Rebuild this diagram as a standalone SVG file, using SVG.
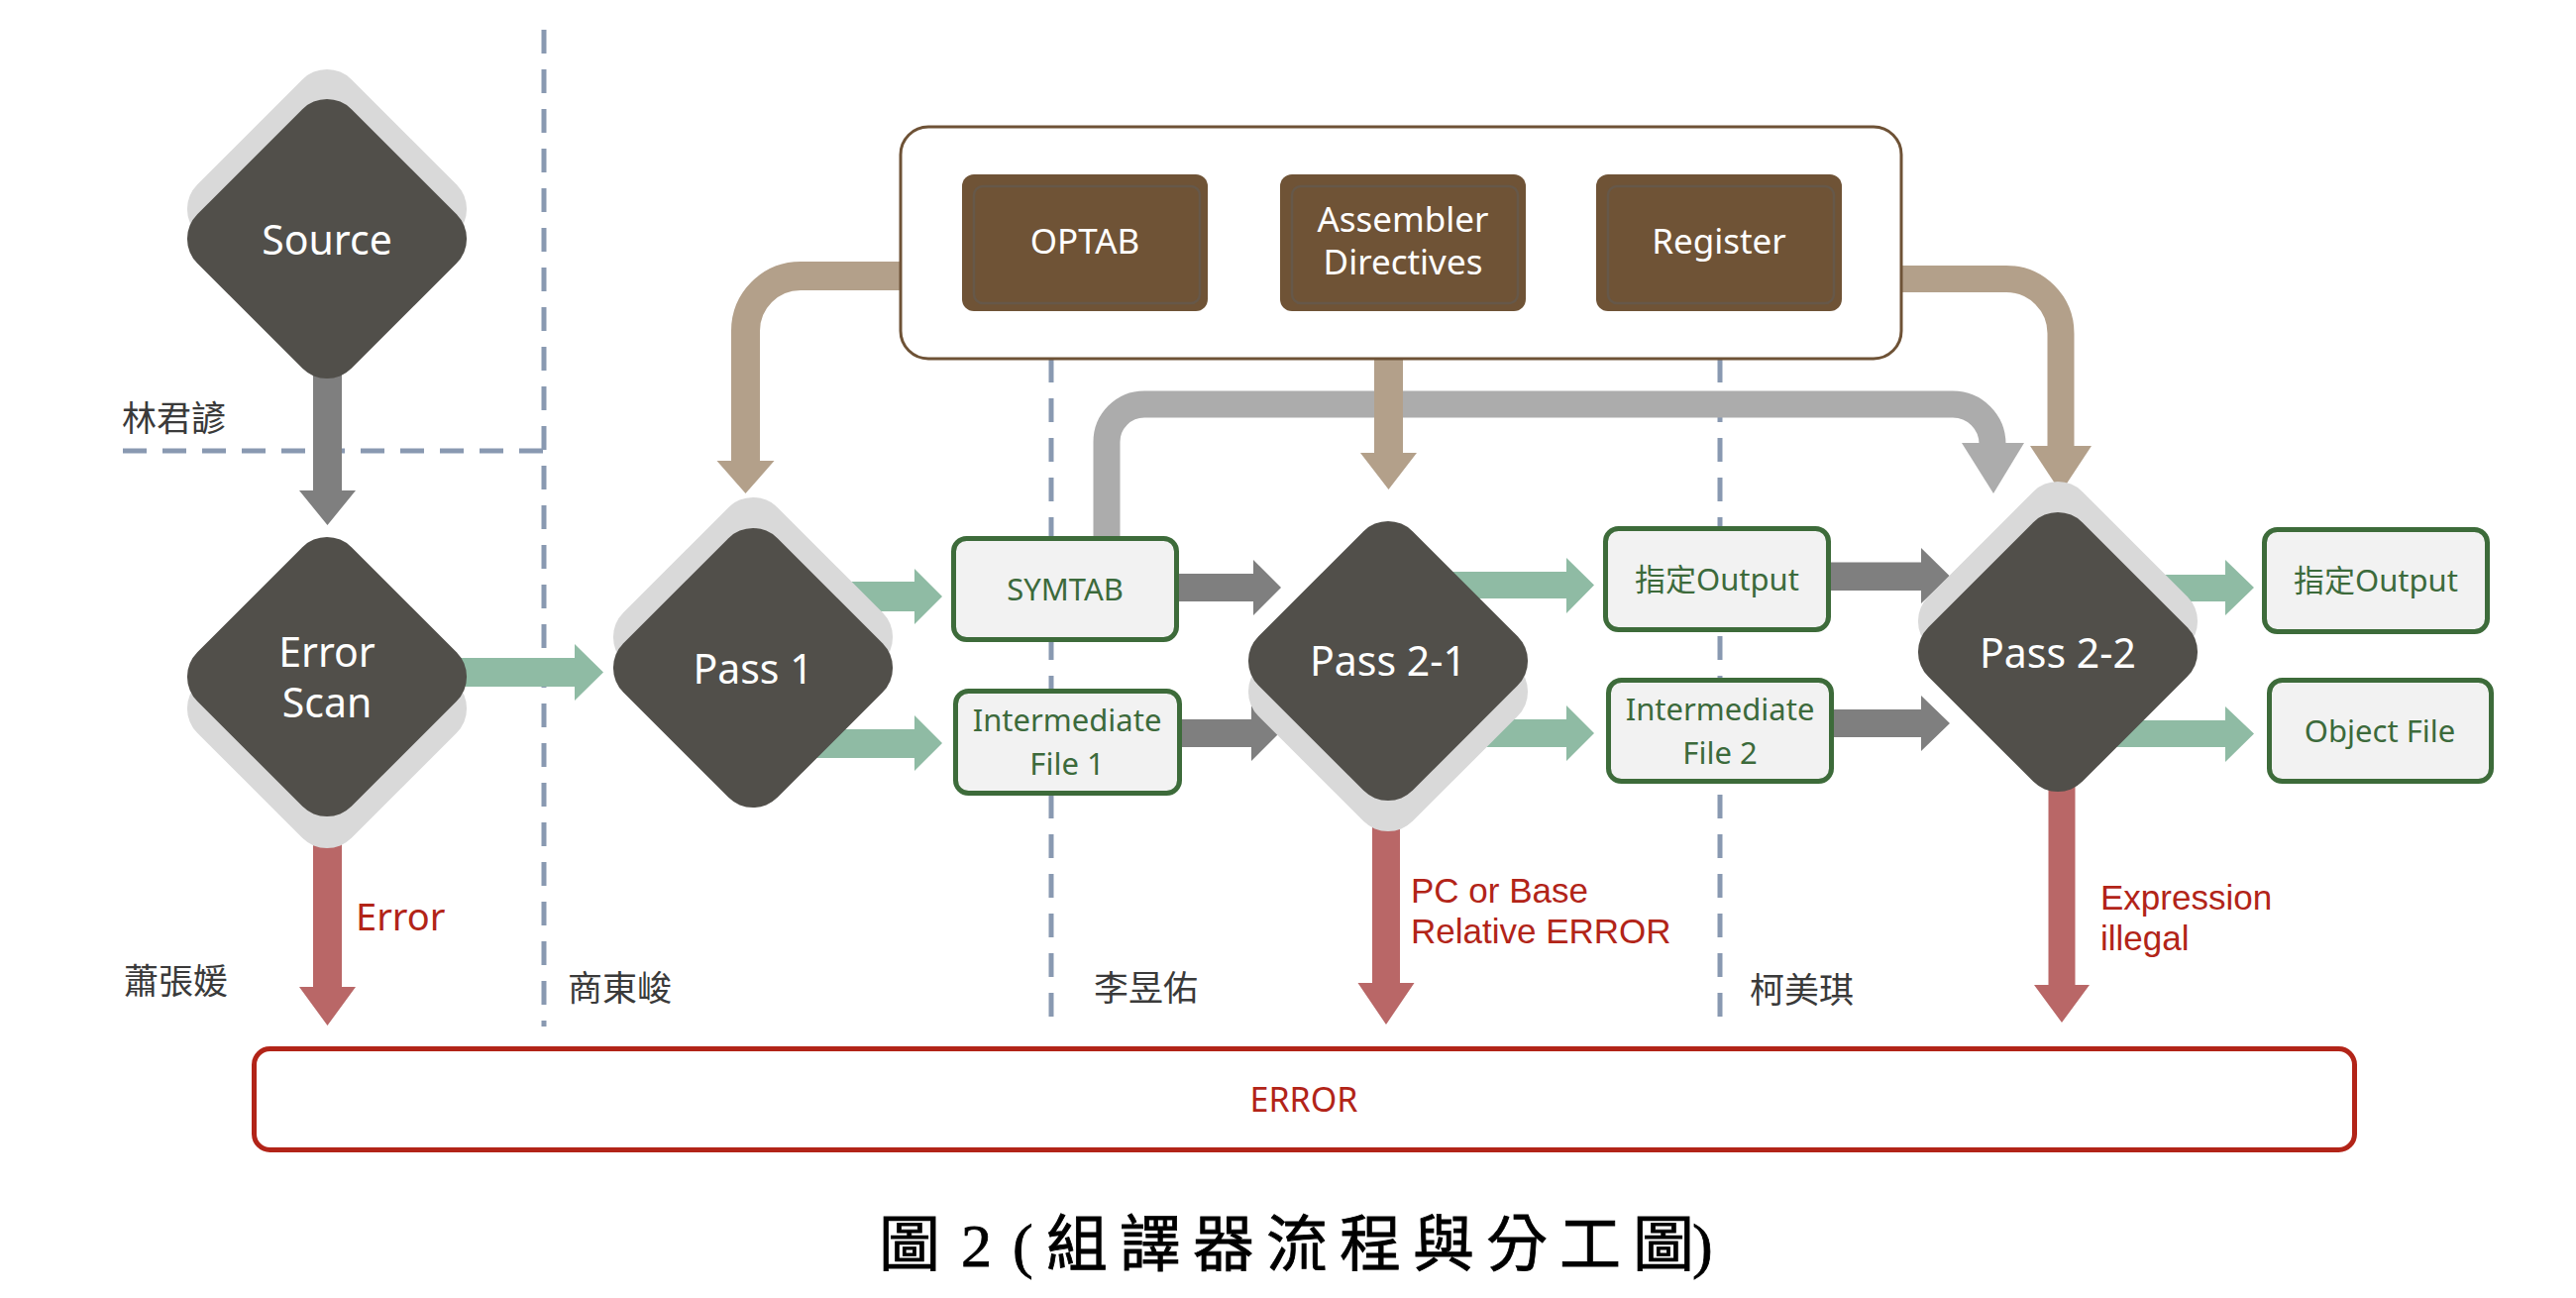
<svg xmlns="http://www.w3.org/2000/svg" xmlns:xlink="http://www.w3.org/1999/xlink" width="2600" height="1310" viewBox="0 0 2600 1310">
<style>
.lane{fill:none;stroke:#8999b1;stroke-width:5;stroke-dasharray:24 16}
.green{fill:#8fbba4}
.dgray{fill:#7f7f7f}
.red{fill:#b96767}
.tan{fill:#b3a08a}
.tanS{fill:none;stroke:#b3a08a}
.lgray{fill:#acacac}
.lgrayS{fill:none;stroke:#acacac}
.dia{fill:#514f4a}
.sh{fill:#d9d9d9}
.dt{font-family:"Noto Sans","Open Sans",sans-serif;font-size:41px;fill:#ffffff;text-anchor:middle}
.gbox{fill:#f2f2f2;stroke:#3d6b3a;stroke-width:5}
.gt{font-family:"Noto Sans","Noto Sans CJK TC",sans-serif;font-size:31px;fill:#3c6a3b;text-anchor:middle}
.bbox{fill:#6f5336}
.bin{fill:none;stroke:#665849;stroke-width:2.5}
.bt{font-family:"Noto Sans","Open Sans",sans-serif;font-size:35px;fill:#ffffff;text-anchor:middle}
.name{font-family:"Noto Sans CJK TC",sans-serif;font-size:35px;fill:#3a3a3a}
.rl{font-family:"Liberation Sans",Arial,sans-serif;font-size:35px;fill:#b22418}
.rn{font-family:"Noto Sans","Open Sans",sans-serif;fill:#b22418}
.cap{font-family:"Liberation Serif","Noto Sans CJK TC",serif;font-size:62px;fill:#000000;stroke:#000000;stroke-width:0.8}
</style>
<defs>
<rect id="dshape" x="-110" y="-110" width="220" height="220" rx="35" ry="35" transform="rotate(45)"/>
</defs>
<rect width="2600" height="1310" fill="#ffffff"/>

<g id="lanes">
<path class="lane" d="M549 30 V1036"/>
<path class="lane" d="M124 455 H549"/>
<path class="lane" d="M1061 362 V1030"/>
<path class="lane" d="M1736 362 V1030"/>
</g>

<g id="connectors">
<polygon class="dgray" points="316,360 345,360 345,495 359,495 330.5,530 302,495 316,495"/>
<polygon class="green" points="440,664 580,664 580,650 609,678.5 580,707 580,693 440,693"/>
<polygon class="red" points="316,800 345,800 345,996 359,996 330.5,1035 302,996 316,996"/>
<polygon class="green" points="800,587 923,587 923,574 951,602 923,630 923,617 800,617"/>
<polygon class="green" points="780,736 923,736 923,722 951,750 923,778 923,765 780,765"/>
<polygon class="dgray" points="1190,579 1265,579 1265,565 1293,593 1265,621 1265,607 1190,607"/>
<polygon class="dgray" points="1193,726 1263,726 1263,712 1291,740 1263,768 1263,754 1193,754"/>
<polygon class="green" points="1440,577 1581,577 1581,563 1609,590.5 1581,619 1581,604 1440,604"/>
<polygon class="green" points="1440,726 1581,726 1581,712 1609,740 1581,768 1581,754 1440,754"/>
<polygon class="red" points="1385,790 1413,790 1413,992 1427.5,992 1399,1034 1370.5,992 1385,992"/>
<polygon class="dgray" points="1848,567.5 1939,567.5 1939,553 1968,581.5 1939,609 1939,596 1848,596"/>
<polygon class="dgray" points="1851,716 1939,716 1939,702 1968,730 1939,758 1939,744 1851,744"/>
<polygon class="green" points="2130,580 2246,580 2246,565 2275,593 2246,621 2246,607 2130,607"/>
<polygon class="green" points="2130,727 2246,727 2246,713 2275,740.5 2246,769 2246,754 2130,754"/>
<polygon class="red" points="2067.5,780 2094.5,780 2094.5,994 2109,994 2081,1032 2053,994 2067.5,994"/>
<path class="lgrayS" stroke-width="27" d="M1117 545 V446 A38 38 0 0 1 1155 408 H1971 A40 40 0 0 1 2011 448 V450"/>
<polygon class="lgray" points="1980,447 2043,447 2012,498"/>
<path class="tanS" stroke-width="29" d="M912 278.5 H808 A55.5 55.5 0 0 0 752.5 334 V466"/>
<polygon class="tan" points="723.5,465 781.5,465 752.5,498"/>
<polygon class="tan" points="1387,360 1416,360 1416,457 1430,457 1401.5,494 1373,457 1387,457"/>
<path class="tanS" stroke-width="27" d="M1917 281.5 H2025 A55 55 0 0 1 2080 336.5 V452"/>
<polygon class="tan" points="2049,450 2111,450 2080,497"/>
</g>

<g id="table-box">
<rect x="909" y="128" width="1010" height="234" rx="28" ry="28" fill="#ffffff" stroke="#6e5236" stroke-width="3"/>
</g>
<g id="optab">
<rect class="bbox" x="971" y="176" width="248" height="138" rx="12"/>
<rect class="bin" x="983" y="188" width="228" height="118" rx="9"/>
<text class="bt" x="1095" y="256">OPTAB</text>
</g>
<g id="assembler-directives">
<rect class="bbox" x="1292" y="176" width="248" height="138" rx="12"/>
<rect class="bin" x="1304" y="188" width="228" height="118" rx="9"/>
<text class="bt" x="1416" y="234">Assembler</text>
<text class="bt" x="1416" y="277">Directives</text>
</g>
<g id="register">
<rect class="bbox" x="1611" y="176" width="248" height="138" rx="12"/>
<rect class="bin" x="1623" y="188" width="228" height="118" rx="9"/>
<text class="bt" x="1735" y="256">Register</text>
</g>

<g id="source">
<use href="#dshape" class="sh" transform="translate(330,211)"/>
<use href="#dshape" class="dia" transform="translate(330,241)"/>
<text class="dt" x="330" y="257">Source</text>
</g>
<g id="error-scan">
<use href="#dshape" class="sh" transform="translate(330,715)"/>
<use href="#dshape" class="dia" transform="translate(330,683)"/>
<text class="dt" x="330" y="673">Error</text>
<text class="dt" x="330" y="724">Scan</text>
</g>
<g id="pass1">
<use href="#dshape" class="sh" transform="translate(760,643)"/>
<use href="#dshape" class="dia" transform="translate(760,674)"/>
<text class="dt" x="760" y="690">Pass 1</text>
</g>
<g id="pass2-1">
<use href="#dshape" class="sh" transform="translate(1401,698)"/>
<use href="#dshape" class="dia" transform="translate(1401,667)"/>
<text class="dt" x="1401" y="682">Pass 2-1</text>
</g>
<g id="pass2-2">
<use href="#dshape" class="sh" transform="translate(2077,627)"/>
<use href="#dshape" class="dia" transform="translate(2077,658)"/>
<text class="dt" x="2077" y="674">Pass 2-2</text>
</g>

<g id="symtab">
<rect class="gbox" x="962.5" y="543.5" width="225" height="102" rx="13"/>
<text class="gt" x="1075" y="606">SYMTAB</text>
</g>
<g id="intermediate-file-1">
<rect class="gbox" x="964.5" y="697.5" width="226" height="103" rx="13"/>
<text class="gt" x="1077" y="738">Intermediate</text>
<text class="gt" x="1077" y="782">File 1</text>
</g>
<g id="output-1">
<rect class="gbox" x="1620.5" y="533.5" width="225" height="102" rx="13"/>
<text class="gt" x="1733" y="596">指定Output</text>
</g>
<g id="intermediate-file-2">
<rect class="gbox" x="1623.5" y="686.5" width="225" height="102" rx="13"/>
<text class="gt" x="1736" y="727">Intermediate</text>
<text class="gt" x="1736" y="771">File 2</text>
</g>
<g id="output-2">
<rect class="gbox" x="2285.5" y="534.5" width="225" height="103" rx="13"/>
<text class="gt" x="2398" y="597">指定Output</text>
</g>
<g id="object-file">
<rect class="gbox" x="2290.5" y="686.5" width="224" height="102" rx="13"/>
<text class="gt" x="2402" y="749">Object File</text>
</g>

<g id="error-box">
<rect x="256.5" y="1058.5" width="2120" height="102" rx="16" fill="#ffffff" stroke="#b22418" stroke-width="5"/>
<text class="rn" x="1316" y="1122" font-size="34" text-anchor="middle">ERROR</text>
</g>

<g id="labels">
<text class="rn" x="359" y="939" font-size="38">Error</text>
<text class="rl" x="1424" y="911">PC or Base</text>
<text class="rl" x="1424" y="952">Relative ERROR</text>
<text class="rl" x="2120" y="918">Expression</text>
<text class="rl" x="2120" y="959">illegal</text>
<text class="name" x="123" y="435">林君諺</text>
<text class="name" x="125" y="1003">蕭張媛</text>
<text class="name" x="573" y="1010">商東峻</text>
<text class="name" x="1104" y="1010">李昱佑</text>
<text class="name" x="1766" y="1012">柯美琪</text>
</g>

<text class="cap" x="887 970 1022 1056 1130 1204 1278 1352 1426 1500 1574 1648 1708" y="1278">圖2(組譯器流程與分工圖)</text>
</svg>
